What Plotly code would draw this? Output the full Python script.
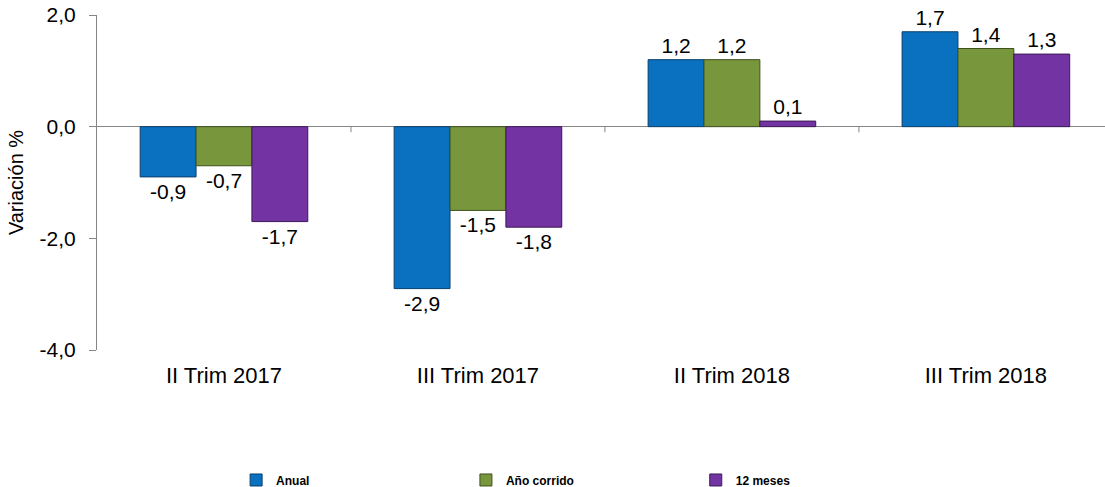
import plotly.graph_objects as go

categories = ["II Trim 2017", "III Trim 2017", "II Trim 2018", "III Trim 2018"]
anual = [-0.9, -2.9, 1.2, 1.7]
anio_corrido = [-0.7, -1.5, 1.2, 1.4]
doce_meses = [-1.7, -1.8, 0.1, 1.3]
series_names = ["Anual", "Año corrido", "12 meses"]
colors = ["#0A70C0", "#78963C", "#7433A3"]
line_colors = ["#0B3F6B", "#3F5020", "#3B1A55"]
y_ticks = [-4, -2, 0, 2]

xpos = list(range(len(categories)))
FONT = "Arial, Liberation Sans, sans-serif"

def fmt(v):
    return f"{v:.1f}".replace(".", ",")

fig = go.Figure()
legend_ids = ["legend", "legend2", "legend3"]
for name, vals, c, lc, lg in zip(series_names, [anual, anio_corrido, doce_meses],
                                 colors, line_colors, legend_ids):
    fig.add_trace(go.Bar(
        x=xpos, y=vals, name=name, legend=lg, showlegend=True,
        marker=dict(color=c, line=dict(color=lc, width=1)),
        text=[fmt(v) for v in vals], textposition="outside",
        textfont=dict(family=FONT, size=21, color="black"),
        constraintext="none", cliponaxis=False,
    ))

# small tick marks on the zero line between categories
for b in [0.5, 1.5, 2.5]:
    fig.add_shape(type="line", xref="x", yref="y", x0=b, x1=b, y0=0, y1=-0.1,
                  line=dict(color="#868686", width=1))

leg_common = dict(orientation="h", yanchor="middle", xanchor="left", y=-0.388,
                  font=dict(size=12, family=FONT, weight="bold", color="black"),
                  bgcolor="rgba(0,0,0,0)")

fig.update_layout(
    width=1105, height=487,
    showlegend=True,
    paper_bgcolor="white", plot_bgcolor="white",
    margin=dict(l=97, r=0, t=15, b=137, autoexpand=False),
    barmode="group", bargap=0.34, bargroupgap=0,
    separators=",.",
    font=dict(family=FONT, color="black"),
    xaxis=dict(range=[-0.5, 3.469], tickmode="array", tickvals=xpos, ticktext=categories,
               showline=False, showgrid=False, zeroline=False, ticks="",
               tickfont=dict(size=22), automargin=False, ticklabelstandoff=10),
    yaxis=dict(range=[-4, 2], tickmode="array", tickvals=y_ticks,
               ticktext=[fmt(v) for v in y_ticks],
               showline=True, linecolor="#868686", linewidth=1,
               ticks="outside", ticklen=7, tickcolor="#868686",
               showgrid=False, zeroline=True, zerolinecolor="#868686", zerolinewidth=1,
               tickfont=dict(size=21), automargin=False, ticklabelstandoff=9,
               ticklabeloverflow="allow",
               title=dict(text="Variación %", font=dict(size=20), standoff=10)),
    legend=dict(x=0.138, **leg_common),
    legend2=dict(x=0.366, **leg_common),
    legend3=dict(x=0.594, **leg_common),
)

# remove the browser's default 8px body margin so the figure fills the window
fig.write_html("out.html", config={"displayModeBar": False},
               post_script="document.body.style.margin='0px';")
